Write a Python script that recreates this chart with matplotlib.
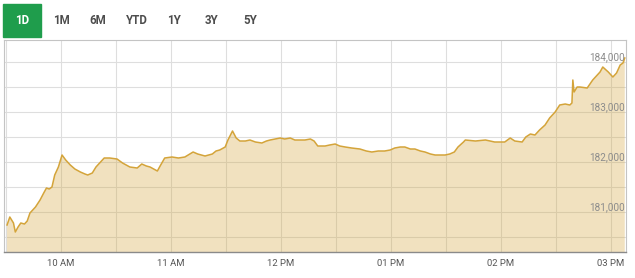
import pandas as pd
import numpy as np
import matplotlib.pyplot as plt
import matplotlib.dates as mdates
import matplotlib.transforms as mtransforms
from matplotlib.patches import Rectangle

# --- data ---
times = [
    '09:30:30', '09:32', '09:34', '09:35', '09:36:30', '09:38', '09:40', '09:41:30',
    '09:43', '09:46', '09:48:30', '09:50:30', '09:52', '09:53:30', '09:55', '09:56:30',
    '09:58:30', '10:00:30', '10:02:30', '10:05', '10:07:30', '10:10:30', '10:13', '10:14:30',
    '10:17', '10:19', '10:21:30', '10:23:30', '10:26:30', '10:30:30',
    '10:33:30', '10:37:30', '10:41:30', '10:44', '10:46:30', '10:48:30', '10:51:30', '10:52:30',
    '10:54', '10:56:30', '11:00:30', '11:04', '11:07:30', '11:12', '11:14:30', '11:18:30',
    '11:22:30', '11:24:30', '11:26:30', '11:29:30', '11:31', '11:33:30',
    '11:35:30', '11:37:30', '11:40:30', '11:43', '11:46', '11:49:30', '11:52', '11:54',
    '11:59:30', '12:02', '12:05', '12:07:30', '12:10:30', '12:13', '12:16', '12:18',
    '12:20', '12:24', '12:26:30', '12:29:30', '12:32', '12:35',
    '12:38:30', '12:43', '12:46:30', '12:49:30', '12:53', '12:56:30', '12:59:30', '13:02',
    '13:05', '13:07:30', '13:10:30', '13:13', '13:16', '13:18:30', '13:21:30', '13:24',
    '13:26:30', '13:29:30', '13:32', '13:34:30', '13:36:30', '13:39:30',
    '13:40:30', '13:46', '13:51:30', '13:56:30', '14:02', '14:05', '14:07:30', '14:11:30',
    '14:13:30', '14:16', '14:18:30', '14:21', '14:24', '14:26:30', '14:29:30', '14:32',
    '14:35', '14:37:30', '14:38:40', '14:39:10', '14:39:50', '14:41:30', '14:43', '14:47',
    '14:50', '14:54', '14:55:30', '14:58:30', '15:01', '15:03', '15:05', '15:06:30',
    '15:07:30',
]
prices = [
    180740, 180900, 180780, 180600, 180700, 180780, 180760, 180820,
    180980, 181100, 181240, 181380, 181480, 181460, 181500, 181740,
    181900, 182140, 182040, 181940, 181860, 181800, 181760, 181740,
    181780, 181900, 182000, 182080, 182080, 182060,
    181980, 181900, 181880, 181960, 181920, 181900, 181840, 181820,
    181920, 182080, 182100, 182080, 182100, 182200, 182160, 182120,
    182160, 182220, 182240, 182300, 182440, 182620,
    182480, 182420, 182420, 182440, 182400, 182380, 182420, 182440,
    182480, 182460, 182480, 182440, 182440, 182440, 182460, 182420,
    182320, 182320, 182340, 182360, 182320, 182300,
    182280, 182260, 182220, 182200, 182220, 182220, 182240, 182280,
    182300, 182300, 182260, 182260, 182220, 182200, 182160, 182140,
    182140, 182140, 182160, 182200, 182300, 182400,
    182440, 182420, 182440, 182400, 182400, 182480, 182420, 182400,
    182500, 182560, 182540, 182640, 182740, 182880, 183000, 183140,
    183160, 183140, 183180, 183640, 183400, 183500, 183500, 183480,
    183640, 183800, 183900, 183800, 183700, 183780, 183940, 183980,
    184080,
]
y_ticks = [181000, 182000, 183000, 184000]
x_ticks = ['10:00', '11:00', '12:00', '13:00', '14:00', '15:00']
periods = ['1D', '1M', '6M', 'YTD', '1Y', '3Y', '5Y']

day = '2024-01-02 '
t = pd.to_datetime([day + s for s in times], format='mixed')

GOLD = '#d4a43a'
GRID = '#dedede'

fig = plt.figure(figsize=(6.35, 2.78), dpi=100)
ax = fig.add_axes([4 / 635, 1 - 252 / 278, 622 / 635, 212 / 278])

ax.fill_between(t, prices, 170000, color=GOLD, alpha=0.32, lw=0, zorder=2)
ax.plot(t, prices, color=GOLD, lw=1.1, zorder=3)

ax.set_xlim(pd.Timestamp(day + '09:28:50'), pd.Timestamp(day + '15:08:10'))
ax.set_ylim(180200, 184440)

# grid: half-hour verticals, 500 horizontals
ax.xaxis.set_major_locator(mdates.MinuteLocator(byminute=[0, 30]))
ax.set_yticks(np.arange(180500, 184500, 500))
ax.grid(True, color=GRID, lw=0.8, zorder=0)
ax.tick_params(length=0, labelbottom=False, labelleft=False)

for s in ['left', 'top', 'right']:
    ax.spines[s].set_color('#c4c4c4')
    ax.spines[s].set_linewidth(0.8)
ax.spines['bottom'].set_color('#8a8a8a')
ax.spines['bottom'].set_linewidth(1.0)

# hour labels under the axis
xlab_tr = mtransforms.blended_transform_factory(ax.transData, ax.transAxes)
for h in x_ticks:
    ts = pd.Timestamp(day + h)
    ax.text(mdates.date2num(ts), -0.052, ts.strftime('%I %p'), transform=xlab_tr,
            ha='center', va='center', fontsize=6.8, color='#555555', family='Roboto')

# price labels inside on the right, sitting on their gridline
ylab_tr = mtransforms.blended_transform_factory(ax.transAxes, ax.transData)
for v in y_ticks:
    ax.text(0.998, v, f'{v:,}', transform=ylab_tr,
            ha='right', va='bottom', fontsize=7.2, color='#8c8c8c', family='Roboto', zorder=4)

# period selector tabs
fig.patches.append(Rectangle((3 / 635, 1 - 37 / 278), 38 / 635, 33 / 278,
                             transform=fig.transFigure, color='#1f9d4c', zorder=0))
tab_x = [22, 61, 98, 137, 174, 212, 250]
for lbl, px in zip(periods, tab_x):
    fig.text(px / 635, 1 - 20 / 278, lbl, ha='center', va='center', fontsize=8.3,
             weight='bold', family='Roboto', color='white' if lbl == '1D' else '#4d4d4d')

fig.savefig('out.png', dpi=100)
